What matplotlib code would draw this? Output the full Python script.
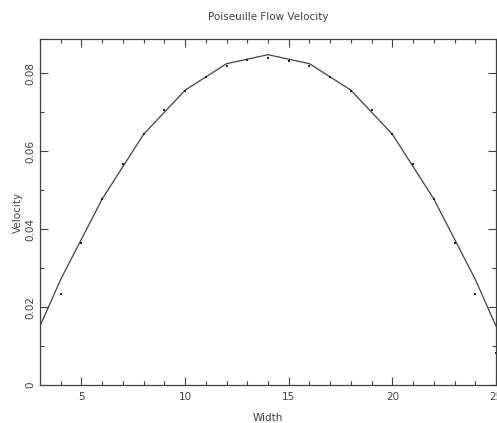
import numpy as np
import matplotlib
matplotlib.use('Agg')
import matplotlib.pyplot as plt
from matplotlib.ticker import MultipleLocator, FuncFormatter

# Analytic profile (solid line), sampled at the edges and even widths
width_line = [3, 4, 6, 8, 10, 12, 14, 16, 18, 20, 22, 24, 25]
v_theory = [0.0151, 0.0271, 0.0477, 0.0643, 0.0756, 0.0824, 0.0847,
            0.0824, 0.0756, 0.0643, 0.0477, 0.0271, 0.0151]

# Simulated velocity (dots) at every grid point
width = [3, 4, 5, 6, 7, 8, 9, 10, 11, 12, 13, 14,
         15, 16, 17, 18, 19, 20, 21, 22, 23, 24, 25]
v_sim = [0.0081, 0.0233, 0.0365, 0.0476, 0.0567, 0.0643, 0.0705, 0.0755,
         0.0791, 0.0817, 0.0833, 0.0838,
         0.0832, 0.0817, 0.0791, 0.0755, 0.0705, 0.0643, 0.0567, 0.0476,
         0.0365, 0.0233, 0.0081]

fg = '#404040'
plt.rcParams['font.family'] = 'DejaVu Sans'

fig = plt.figure(figsize=(4.97, 4.23), dpi=100)
ax = fig.add_axes([40 / 497, 1 - 385 / 423, 456 / 497, 345.5 / 423])

ax.plot(width_line, v_theory, color=fg, linewidth=0.9)
ax.plot(width, v_sim, linestyle='none', marker='s', markersize=1.8,
        color='#202020', markeredgewidth=0)

ax.set_xlim(3, 25)
ax.set_ylim(0, 0.0886)

ax.xaxis.set_major_locator(MultipleLocator(5))
ax.xaxis.set_minor_locator(MultipleLocator(1))
ax.yaxis.set_major_locator(MultipleLocator(0.02))
ax.yaxis.set_minor_locator(MultipleLocator(0.01))
ax.yaxis.set_major_formatter(FuncFormatter(lambda v, p: '0' if abs(v) < 1e-9 else f'{v:.2f}'))

ax.tick_params(which='both', direction='in', top=True, right=True,
               color=fg, width=0.8, labelsize=7.5, labelcolor=fg)
ax.tick_params(which='major', length=6)
ax.tick_params(axis='x', which='major', pad=5)
ax.tick_params(axis='y', which='major', pad=3)
ax.tick_params(which='minor', length=3)
for lab in ax.get_yticklabels():
    lab.set_rotation(90)
    lab.set_va('center')

for s in ax.spines.values():
    s.set_color(fg)
    s.set_linewidth(0.9)

ax.set_xlabel('Width', fontsize=7.5, color=fg, labelpad=8)
ax.set_ylabel('Velocity', fontsize=7.5, color=fg, labelpad=2)
fig.text(268 / 497, 1 - 17 / 423, 'Poiseuille Flow Velocity', fontsize=7.5,
         color=fg, ha='center', va='center')

fig.savefig('out.png', dpi=100)
